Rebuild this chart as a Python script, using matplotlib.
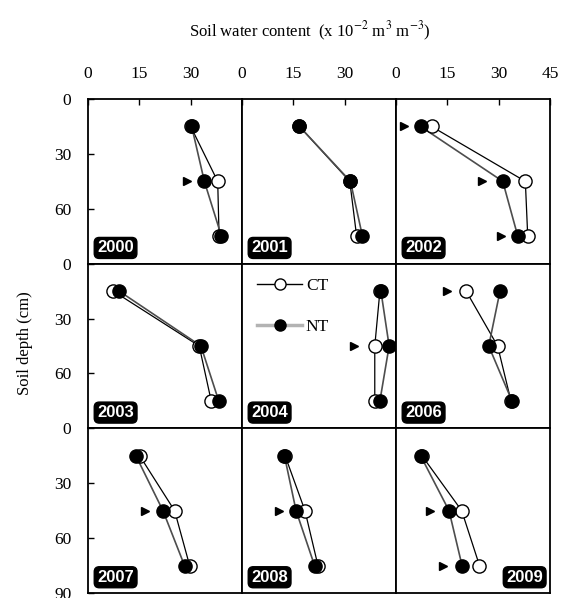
"""Soil water content profiles under CT and NT, 2000-2009."""

import matplotlib
import numpy as np

matplotlib.use("Agg")
from matplotlib import pyplot as plt  # noqa: E402
from matplotlib.lines import Line2D  # noqa: E402

plt.rcParams["font.family"] = ["Liberation Serif", "DejaVu Serif"]
plt.rcParams["mathtext.fontset"] = "stix"

years = ["2000", "2001", "2002", "2003", "2004", "2006", "2007", "2008", "2009"]
depths = [15, 45, 75]

# soil water content (x 10^-2 m3 m-3) at 15, 45, 75 cm
ct_swc = [
    [30.0, 37.9, 38.3],
    [16.8, 31.5, 33.5],
    [10.4, 37.8, 38.5],
    [7.4, 32.5, 36.0],
    [40.3, 38.8, 38.8],
    [20.5, 29.7, 33.6],
    [15.1, 25.3, 29.7],
    [12.6, 18.4, 22.2],
    [7.6, 19.2, 24.4],
]
nt_swc = [
    [30.3, 34.0, 39.0],
    [16.8, 31.7, 35.2],
    [7.2, 31.2, 35.6],
    [9.1, 33.0, 38.2],
    [40.6, 43.0, 40.3],
    [30.4, 27.1, 33.9],
    [14.0, 21.9, 28.2],
    [12.4, 15.8, 21.2],
    [7.2, 15.5, 19.3],
]

# significant CT vs NT differences (triangle markers)
sig_years = ["2000", "2002", "2002", "2002", "2004", "2006", "2007", "2008", "2009", "2009"]
sig_depths = [45, 15, 45, 75, 45, 15, 45, 45, 45, 75]
sig_x = [29.0, 2.3, 25.2, 30.7, 32.8, 15.0, 16.6, 10.8, 9.9, 13.6]

x_ticks = [0, 15, 30, 45]
y_ticks = [0, 30, 60, 90]

fig = plt.figure(figsize=(5.62, 5.98), dpi=100)
grid = fig.add_gridspec(3, 3, left=0.1566, right=0.9786, top=0.8344, bottom=0.0084,
                        wspace=0, hspace=0)

for index, year in enumerate(years):
    row, col = divmod(index, 3)
    ax = fig.add_subplot(grid[row, col])
    ct = np.array(ct_swc[index])
    nt = np.array(nt_swc[index])

    ax.plot(ct, depths, color="black", lw=0.9, zorder=2)
    ax.plot(nt, depths, color="0.3", lw=1.2, zorder=2)
    ax.plot(ct, depths, "o", ms=9.5, mfc="white", mec="black", mew=1.0, zorder=3, clip_on=False)
    ax.plot(nt, depths, "o", ms=9.5, mfc="black", mec="black", mew=1.0, zorder=4, clip_on=False)

    for s_year, s_depth, s_x in zip(sig_years, sig_depths, sig_x):
        if s_year == year:
            ax.plot(s_x, s_depth, ">", ms=6, color="black", zorder=3, clip_on=False)

    ax.set_xlim(0, 45)
    ax.set_ylim(90, 0)
    for spine in ax.spines.values():
        spine.set_linewidth(1.3)

    if row == 0:
        ax.xaxis.tick_top()
        ax.set_xticks(x_ticks if col == 2 else x_ticks[:3])
        ax.tick_params(axis="x", direction="in", length=4, width=1, pad=12, labelsize=12.5)
    else:
        ax.set_xticks([])

    if col == 0:
        ax.set_yticks(y_ticks if row == 2 else y_ticks[:3])
        ax.tick_params(axis="y", direction="in", length=4, width=1, pad=12, labelsize=12.5)
    else:
        ax.set_yticks([])

    label_x, label_ha = (0.955, "right") if year == "2009" else (0.06, "left")
    ax.text(label_x, 0.05, year, transform=ax.transAxes, ha=label_ha, va="bottom",
            color="white", fontsize=12, fontweight="bold", family="Liberation Sans",
            bbox=dict(boxstyle="round,pad=0.18,rounding_size=0.3", fc="black", ec="black"))

    if year == "2004":
        handles = [
            Line2D([], [], color="black", lw=1.0, marker="o", ms=8, mfc="white", mec="black"),
            Line2D([], [], color="0.7", lw=2.5, marker="o", ms=8, mfc="black", mec="black"),
        ]
        ax.legend(handles, ["CT", "NT"], loc="upper left", frameon=False, fontsize=12.5,
                  handlelength=2.6, labelspacing=1.45, handletextpad=0.2,
                  borderaxespad=0.3, bbox_to_anchor=(0.02, 0.99))

fig.text(0.552, 0.948, r"Soil water content  (x 10$^{-2}$ m$^{3}$ m$^{-3}$)",
         ha="center", va="center", fontsize=12)
fig.text(0.045, 0.426, "Soil depth (cm)", rotation=90, ha="center", va="center", fontsize=12)

fig.savefig("out.png", dpi=100)
